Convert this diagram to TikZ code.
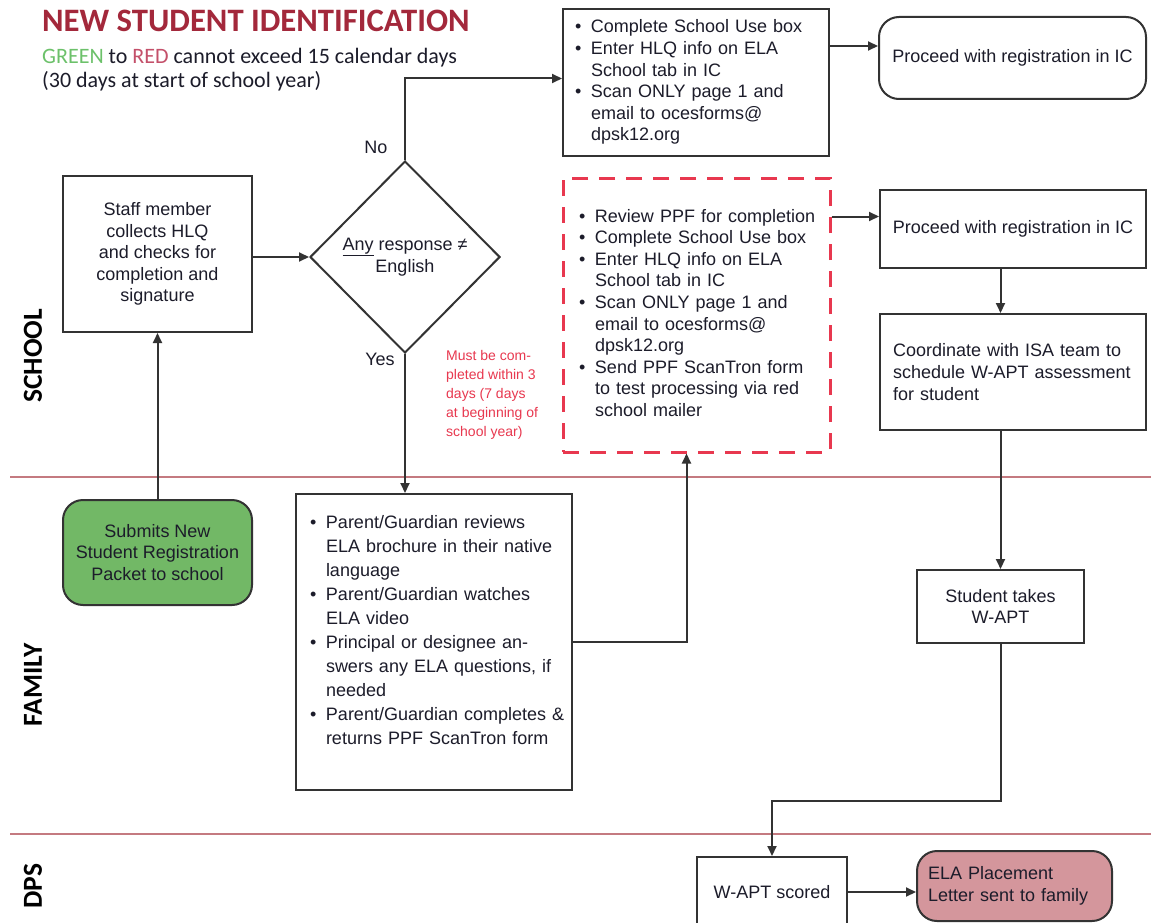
\documentclass[tikz,border=0pt]{standalone}
\usepackage{fontspec}
\setmainfont{Liberation Sans}
\newfontfamily\calibri{Carlito}
\usetikzlibrary{arrows.meta,shapes.geometric,calc}
\definecolor{ink}{HTML}{1C1C2A}
\definecolor{linecol}{HTML}{333333}
\definecolor{lanecol}{HTML}{C47A80}
\definecolor{titlered}{HTML}{A3283B}
\definecolor{greentext}{HTML}{6CC16A}
\definecolor{redtext}{HTML}{C4506A}
\definecolor{greenfill}{HTML}{72B866}
\definecolor{pinkfill}{HTML}{D4969C}
\definecolor{notered}{HTML}{E8384F}
\tikzset{>={Triangle[length=10pt,width=9pt]},
    box/.style={draw=linecol, line width=2pt, text=ink, inner sep=0pt,
        font=\fontsize{18}{21.6}\selectfont},
    rbox/.style={box, rounded corners=20pt},
    flow/.style={->, draw=linecol, line width=2pt},
    lane/.style={draw=lanecol, line width=2pt},
    lanelabel/.style={rotate=90, inner sep=0pt, text=black,
        font=\calibri\bfseries\fontsize{27.5}{30}\selectfont},
    answer/.style={inner sep=0pt, text=ink, font=\fontsize{18}{21.6}\selectfont},
}
\newcommand{\bul}{\textbullet}

\begin{document}
\begin{tikzpicture}[x=1pt,y=-1pt]
    \useasboundingbox[fill=white] (0,0) rectangle (1151,923);
    % swim lanes
    \draw[lane] (10,477) -- (1151,477);
    \draw[lane] (10,834) -- (1151,834);
    \node[lanelabel] (school) at (33,356) {SCHOOL};
    \node[lanelabel] (fam) at (33,685) {FAMILY};
    \node[lanelabel] (dps) at (33,886) {DPS};
    % heading
    \node[anchor=base west, inner sep=0pt, text=titlered,
        font=\calibri\bfseries\fontsize{32.7}{36}\selectfont] (title) at (42,32) {NEW STUDENT IDENTIFICATION};
    \node[anchor=base west, inner sep=0pt, text=ink,
        font=\calibri\fontsize{22}{24}\selectfont] (sub1) at (42,64)
        {\textcolor{greentext}{GREEN} to \textcolor{redtext}{RED} cannot exceed 15 calendar days};
    \node[anchor=base west, inner sep=0pt, text=ink,
        font=\calibri\fontsize{22}{24}\selectfont] (sub2) at (42,88) {(30 days at start of school year)};

    \node[box, minimum width=189, minimum height=156, align=center] (staff) at (157.5,254)
        {Staff member\\collects HLQ\\and checks for\\completion and\\signature};
    \node[rbox, fill=greenfill, minimum width=189, minimum height=105, align=center] (submit) at (157.5,552.5)
        {Submits New\\Student Registration\\Packet to school};
    \node[box, diamond, aspect=1, minimum width=190, minimum height=192, align=center] (any) at (405,257)
        {\underline{Any} response ≠\\English};
    \node[answer] (no) at (376,147) {No};
    \node[answer] (yes) at (380,359) {Yes};

    \node[box, minimum width=266, minimum height=147, inner xsep=12pt, text width=242pt, align=left] (top) at (696,82.5)
        {\begin{tabular}{@{}p{16pt}@{}l@{}}
        \bul & Complete School Use box\\
        \bul & Enter HLQ info on ELA\\
             & School tab in IC\\
        \bul & Scan ONLY page 1 and\\
             & email to ocesforms@\\
             & dpsk12.org
        \end{tabular}};
    \node[rbox, minimum width=267, minimum height=82] (proc1) at (1012.5,58) {Proceed with registration in IC};

    \node[box, draw=notered, line width=3pt, dash pattern=on 16pt off 11pt, minimum width=267, minimum height=274,
        inner xsep=16pt, text width=235pt, align=left] (check) at (696.5,315)
        {\begin{tabular}{@{}p{16pt}@{}l@{}}
        \bul & Review PPF for completion\\
        \bul & Complete School Use box\\
        \bul & Enter HLQ info on ELA\\
             & School tab in IC\\
        \bul & Scan ONLY page 1 and\\
             & email to ocesforms@\\
             & dpsk12.org\\
        \bul & Send PPF ScanTron form\\
             & to test processing via red\\
             & school mailer
        \end{tabular}};
    \node[anchor=north west, inner sep=0pt, align=left, text=notered,
        font=\fontsize{14}{19}\selectfont] (note) at (446,350)
        {Must be com-\\pleted within 3\\days (7 days\\at beginning of\\school year)};

    \node[box, minimum width=266, minimum height=78] (proc2) at (1013,229) {Proceed with registration in IC};
    \node[box, minimum width=266, minimum height=116, inner xsep=13pt, text width=240pt, align=left] (coord) at (1013,372)
        {Coordinate with ISA team to\\schedule W-APT assessment\\for student};

    \node[box, minimum width=276, minimum height=296, inner xsep=14pt, text width=248pt, align=left,
        font=\fontsize{18}{24}\selectfont] (family) at (434,642)
        {\begin{tabular}{@{}p{16pt}@{}l@{}}
        \bul & Parent/Guardian reviews\\
             & ELA brochure in their native\\
             & language\\
        \bul & Parent/Guardian watches\\
             & ELA video\\
        \bul & Principal or designee an-\\
             & swers any ELA questions, if\\
             & needed\\
        \bul & Parent/Guardian completes \&\\
             & returns PPF ScanTron form\\[20pt]
        \end{tabular}};

    \node[box, minimum width=167, minimum height=73, align=center] (student) at (1000.5,606.5) {Student takes\\W-APT};
    \node[box, minimum width=150, minimum height=70] (wapt) at (772,892) {W-APT scored};
    \node[rbox, fill=pinkfill, minimum width=195, minimum height=70, inner xsep=11pt, text width=173pt, align=left] (ela) at (1014.5,886)
        {ELA Placement\\Letter sent to family};

    % connectors
    \draw[flow] (submit.north) -- (staff.south);
    \draw[flow] (staff.east |- any.west) -- (any.west);
    \draw[flow] (any.north) |- ($(top.west)+(0,-4)$);
    \draw[flow] ([yshift=-38pt]top.north east) coordinate (t1) -- (t1 -| proc1.west);
    \draw[flow] (any.south) -- (any.south |- family.north);
    \draw[flow] (family.east) -| ([xshift=-10pt]check.south);
    \draw[flow] ([yshift=-40pt]check.north east) coordinate (c1) -- (c1 -| proc2.west);
    \draw[flow] (proc2.south -| student.north) -- (coord.north -| student.north);
    \draw[flow] (coord.south -| student.north) -- (student.north);
    \draw[flow] (student.south) -- ++(0,157) -| (wapt.north);
    \draw[flow] (wapt.east) -- (wapt.east -| ela.west);
\end{tikzpicture}
\end{document}
